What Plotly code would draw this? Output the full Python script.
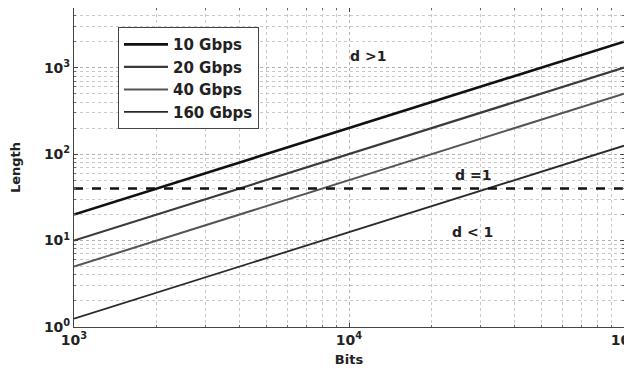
import plotly.graph_objects as go

bits = [1e3, 1e4, 1e5]
series_names = ["10 Gbps", "20 Gbps", "40 Gbps", "160 Gbps"]
len_10 = [20, 200, 2000]
len_20 = [10, 100, 1000]
len_40 = [5, 50, 500]
len_160 = [1.25, 12.5, 125]
d_one_length = [40, 40, 40]

x_tickvals = [1e3, 1e4, 1e5]
x_ticktext = ["<b>10<sup>3</sup></b>", "<b>10<sup>4</sup></b>", "<b>10<sup>5</sup></b>"]
y_tickvals = [1, 10, 100, 1000]
y_ticktext = ["<b>10<sup>0</sup></b>", "<b>10<sup>1</sup></b>", "<b>10<sup>2</sup></b>", "<b>10<sup>3</sup></b>"]

colors = ["#111111", "#3a3a3a", "#555555", "#2a2a2a"]
widths = [2.6, 2.2, 2.0, 1.8]
series = [len_10, len_20, len_40, len_160]

fig = go.Figure()
for name, ys, c, w in zip(series_names, series, colors, widths):
    fig.add_trace(go.Scatter(x=bits, y=ys, mode="lines", name=f"<b>{name}</b>",
                             line=dict(color=c, width=w)))
fig.add_trace(go.Scatter(x=bits, y=d_one_length, mode="lines", showlegend=False,
                         line=dict(color="#111111", width=2.4, dash="dash")))

font_b = "DejaVu Sans"
fig.add_annotation(x=4.07, y=3.13, xref="x", yref="y", text="<b>d >1</b>",
                   showarrow=False, font=dict(size=14, color="#222", family=font_b))
fig.add_annotation(x=4.45, y=1.76, xref="x", yref="y", text="<b>d =1</b>",
                   showarrow=False, font=dict(size=14, color="#222", family=font_b))
fig.add_annotation(x=4.45, y=1.1, xref="x", yref="y", text="<b>d < 1</b>",
                   showarrow=False, font=dict(size=14, color="#222", family=font_b))

axis_common = dict(type="log", showline=True, linecolor="#444", linewidth=1, mirror="ticks",
                   ticks="inside", ticklen=4, tickcolor="#444",
                   showgrid=True, gridcolor="#b0b0b0", griddash="dot", gridwidth=1,
                   zeroline=False, automargin=False,
                   tickfont=dict(size=14, color="#222", family=font_b))

minor_common = dict(showgrid=True, gridcolor="#c8c8c8", griddash="dot", ticks="inside",
                    ticklen=2, tickcolor="#666", dtick="D1")

fig.update_xaxes(**axis_common, range=[3, 5], tickvals=x_tickvals, ticktext=x_ticktext,
                 minor=minor_common,
                 title=dict(text="<b>Bits</b>", font=dict(size=13, color="#222", family=font_b),
                            standoff=8))
fig.update_yaxes(**axis_common, range=[0, 3.69], tickvals=y_tickvals, ticktext=y_ticktext,
                 minor=minor_common,
                 title=dict(text="<b>Length</b>", font=dict(size=13, color="#222", family=font_b),
                            standoff=20))

fig.update_layout(
    width=632, height=369,
    margin=dict(l=66, r=16, t=0, b=50),
    paper_bgcolor="white", plot_bgcolor="white",
    legend=dict(x=0.08, y=0.94, xanchor="left", yanchor="top",
                bgcolor="white", bordercolor="#444", borderwidth=1,
                font=dict(size=15, color="#222", family=font_b),
                tracegroupgap=0, itemwidth=44),
    showlegend=True,
)

fig.write_html("out.html")
